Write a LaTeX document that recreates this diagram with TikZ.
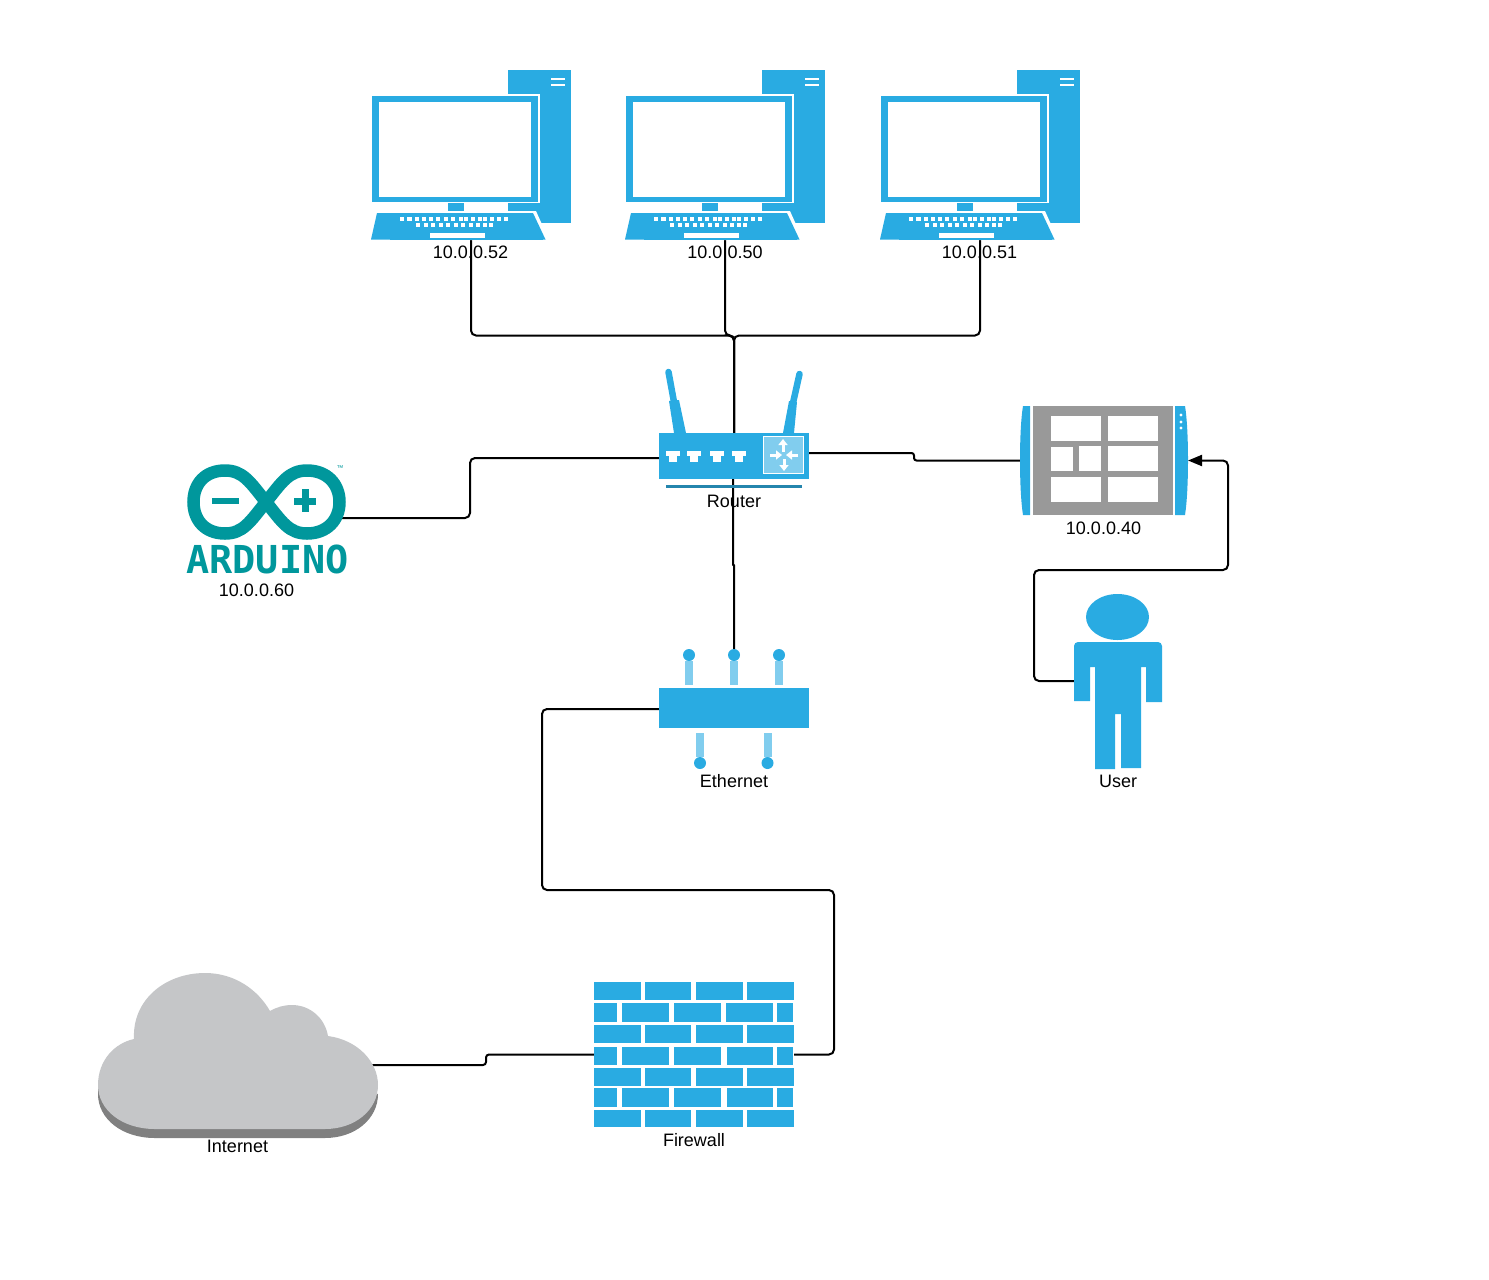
\documentclass[tikz,border=0pt]{standalone}
\usepackage{fontspec}
\setmainfont{Liberation Sans}
\newfontfamily\ardfont{DejaVu Sans Mono}
\usetikzlibrary{arrows.meta}
\definecolor{netblue}{HTML}{29ABE2}
\definecolor{netlight}{HTML}{81CDEE}
\definecolor{netdark}{HTML}{2485AD}
\definecolor{panelgray}{HTML}{999999}
\definecolor{ardteal}{HTML}{00979C}
\definecolor{cloudtop}{HTML}{C5C6C8}
\definecolor{cloudside}{HTML}{808080}
\begin{document}
\begin{tikzpicture}[x=1pt,y=-1pt,
        devbox/.style 2 args = {minimum width=#1pt,
            minimum height=#2pt,
            inner sep=0,
            outer sep=0},
        lbl/.style = {inner sep=0,
            font=\fontsize{18}{18}\selectfont},
        wire/.style = {line width=2pt,
            rounded corners=5pt},
        pics/pcicon/.style = {code={
            \fill[netblue] (137,0) rectangle (200,153);
            \fill[white] (180,8) rectangle (194,9.5);
            \fill[white] (180,14) rectangle (194,15.5);
            \fill[white] (-1,24) rectangle (169,133);
            \fill[netblue] (1,26) rectangle (167,132);
            \fill[white] (8,32) rectangle (160,127);
            \fill[netblue] (77,133) rectangle (93,141);
            \fill[white] (4,141) -- (165,141) -- (178,170) -- (0,170) -- cycle;
            \fill[netblue] (6,143) -- (162,143) -- (174.5,169.5) -- (0,169.5) -- cycle;
            \fill[netblue] (19,169) rectangle (172,170);
            \fill[white] (59,163) rectangle (114,168);
            \foreach \k in {29,36.3,44,51,58,65,73,80,88,93,100,107,112,119,126,133}
                \fill[white] (\k,147) rectangle ++(4.3,4.2);
            \foreach \k in {45,53,60,68,75,83,90,98,105,112,118}
                \fill[white] (\k,153) rectangle ++(4.3,4.2);
        }}]

    \useasboundingbox (0,0) rectangle (1489,1280);

    % Devices
    \node[devbox={200}{170}] (pc1) at (471,155) {};
    \node[devbox={200}{170}] (pc2) at (725,155) {};
    \node[devbox={200}{170}] (pc3) at (980,155) {};
    \node[devbox={150}{46}] (router) at (734,456) {};
    \node[devbox={159}{108}] (arduino) at (266.5,518) {};
    \node[devbox={168}{110}] (tablet) at (1104,460.5) {};
    \node[devbox={150}{120}] (ethernet) at (734,709) {};
    \node[devbox={88}{175}] (user) at (1118,681) {};
    \node[devbox={200}{145}] (firewall) at (694,1054.5) {};
    \node[devbox={280}{165}] (internet) at (238,1055.5) {};

    % Labels
    \node[lbl] (pc1 label) at (470.5,252) {10.0.0.52};
    \node[lbl] (pc2 label) at (725,252) {10.0.0.50};
    \node[lbl] (pc3 label) at (979.5,252) {10.0.0.51};
    \node[lbl] (router label) at (734,501) {Router};
    \node[lbl] (arduino label) at (256.5,590) {10.0.0.60};
    \node[lbl] (tablet label) at (1103.5,528) {10.0.0.40};
    \node[lbl] (ethernet label) at (734,781) {Ethernet};
    \node[lbl] (user label) at (1118,781) {User};
    \node[lbl] (firewall label) at (694,1140) {Firewall};
    \node[lbl] (internet label) at (237.5,1146) {Internet};

    % Connectors
    \coordinate (hub) at (734,335.5);
    \draw[wire] (pc1.south) |- (hub) -- (router.north);
    \draw[wire] (pc2.south) |- (hub) -- (router.north);
    \draw[wire] (pc3.south) |- (hub) -- (router.north);
    \draw[wire] ([xshift=-5pt]arduino.east) -- ++(129,0) |- ([yshift=-2pt]router.west);
    \draw[wire, rounded corners=2.5pt] ([yshift=3pt]router.east) -- ++(105,0) |- (tablet.west);
    \draw[wire, rounded corners=0.4pt] ([xshift=-1pt]router.south) -- ++(0,86) -- ++(1,0) -- (ethernet.north);
    \draw[wire] (ethernet.west) -- ++(-117,0) -- ++(0,181) -- ++(292,0) |- (firewall.east);
    \draw[wire, rounded corners=3pt] (firewall.west) -- ++(-108,0) |- ([xshift=-6pt,yshift=-9.5pt]internet.east);
    \draw[wire, -{Triangle[width=11pt,length=14pt]}] (user.west) -- ++(-40,0) -- ++(0,-111) -- ++(194,0) |- (tablet.east);

    % Computers
    \pic at (pc1.north west) {pcicon};
    \pic at (pc2.north west) {pcicon};
    \pic at (pc3.north west) {pcicon};

    % Router
    \fill[netblue] (659,433) rectangle (809,479);
    \fill[netdark] (666,485) rectangle (802,488);
    \fill[netblue] (669,401) -- (679,400) -- (686,433) -- (674,433) -- cycle;
    \fill[netblue] (789,401) -- (797,402) -- (794,433) -- (783,433) -- cycle;
    \draw[netblue, line width=6.5pt, line cap=round] (668.5,372) -- (674,402);
    \draw[netblue, line width=6.5pt, line cap=round] (799.5,374) -- (793,403);
    \foreach \p in {666,687,710,732} {
        \fill[white] (\p,451) rectangle ++(14,5);
        \fill[white] (\p+3,456) rectangle ++(8,6);
    }
    \fill[netlight, draw=white, line width=1.5pt] (763.5,436.5) rectangle (803.5,473.5);
    \begin{scope}[white, line width=3pt, -{Triangle[width=9pt,length=6pt]}]
        \draw (783,452) -- (783,439);
        \draw (784,459) -- (784,471);
        \draw (770,455) -- (782,455);
        \draw (798,455) -- (786,455);
    \end{scope}

    % Arduino logo
    \draw[ardteal, line width=12.5pt] (266,502)
        .. controls (250,482) and (243,470.5) .. (225,470.5)
        .. controls (205,470.5) and (193.5,484) .. (193.5,502)
        .. controls (193.5,520) and (205,533.5) .. (225,533.5)
        .. controls (243,533.5) and (250,522) .. (266,502)
        .. controls (282,482) and (289,470.5) .. (307,470.5)
        .. controls (327,470.5) and (339.5,484) .. (339.5,502)
        .. controls (339.5,520) and (327,533.5) .. (307,533.5)
        .. controls (289,533.5) and (282,522) .. (266,502) -- cycle;
    \fill[ardteal] (212,498) rectangle (239,504);
    \fill[ardteal] (294,497.5) rectangle (316,504.5);
    \fill[ardteal] (301.5,489) rectangle (308.5,512);
    \node[inner sep=0, text=ardteal, font=\fontsize{7}{7}\selectfont] (arduino tm) at (340,468) {™};
    \node[inner sep=0, text=ardteal, font=\ardfont\bfseries\fontsize{38.5}{38.5}\selectfont] (arduino name) at (267.5,559) {ARDUINO};

    % Tablet
    \fill[netblue] (1030,406) -- (1030,515) -- (1023,515) .. controls (1019,490) and (1019,430) .. (1023,406) -- cycle;
    \fill[netblue] (1175,406) -- (1175,515) -- (1185,515) .. controls (1189,490) and (1189,430) .. (1185,406) -- cycle;
    \fill[panelgray] (1033,406) rectangle (1173,515);
    \fill[white] (1051,416) rectangle (1101,441);
    \fill[white] (1108,416) rectangle (1158,441);
    \fill[white] (1051,447) rectangle (1073,471);
    \fill[white] (1079,446) rectangle (1101,471);
    \fill[white] (1108,446) rectangle (1158,471);
    \fill[white] (1051,477) rectangle (1101,502);
    \fill[white] (1108,477) rectangle (1158,502);
    \foreach \d in {415,422,428}
        \fill[white] (1181,\d) circle (1.7);

    % Ethernet
    \fill[netblue] (659,688) rectangle (809,728);
    \foreach \s in {689,734,779} {
        \fill[netlight] (\s-4,661) rectangle (\s+4,685);
        \fill[netblue] (\s,655) circle (6);
    }
    \foreach \s in {700,767.5} {
        \fill[netlight] (\s-4,733) rectangle (\s+4,757);
        \fill[netblue] (\s,763) circle (6);
    }

    % User
    \fill[netblue] (1117.5,617) ellipse (31.5 and 23);
    \fill[netblue] (1074,701) -- (1074,647) [rounded corners=4pt] -- (1074,642) -- (1162,642) [sharp corners] -- (1162,702)
        -- (1146,702) -- (1146,667) -- (1141,667) -- (1141,768) -- (1121,768) -- (1121,714)
        -- (1115,714) -- (1115,769) -- (1095,769) -- (1095,667) -- (1090,667) -- (1090,701) -- cycle;

    % Firewall
    \foreach \y/\h in {982/18,1025/18,1068/18,1110/17}
        \foreach \a/\b in {594/641,645/691,696/743,747/794}
            \fill[netblue] (\a,\y) rectangle (\b,\y+\h);
    \foreach \y/\h/\c in {1003/19/726,1047/18/727,1088/19/727}
        \foreach \a/\b in {594/617,622/669,674/721,\c/773,777/793}
            \fill[netblue] (\a,\y) rectangle (\b,\y+\h);

    % Cloud
    \begin{scope}[yshift=-9pt]
        \fill[cloudside] (98,1085) .. controls (98,1060) and (115,1043) .. (134,1039)
            -- (378,1085) .. controls (378,1110) and (355,1129) .. (325,1129)
            -- (155,1129) .. controls (122,1129) and (98,1110) .. (98,1085) -- cycle;
    \end{scope}
    \fill[cloudtop] (98,1085) .. controls (98,1060) and (115,1043) .. (134,1039)
        .. controls (132,1000) and (165,973) .. (205,973)
        .. controls (235,973) and (258,990) .. (270,1011)
        .. controls (277,1007) and (284,1005) .. (292,1005)
        .. controls (310,1005) and (325,1018) .. (328,1036)
        .. controls (358,1040) and (378,1062) .. (378,1085)
        .. controls (378,1110) and (355,1129) .. (325,1129)
        -- (155,1129) .. controls (122,1129) and (98,1110) .. (98,1085) -- cycle;

\end{tikzpicture}
\end{document}
